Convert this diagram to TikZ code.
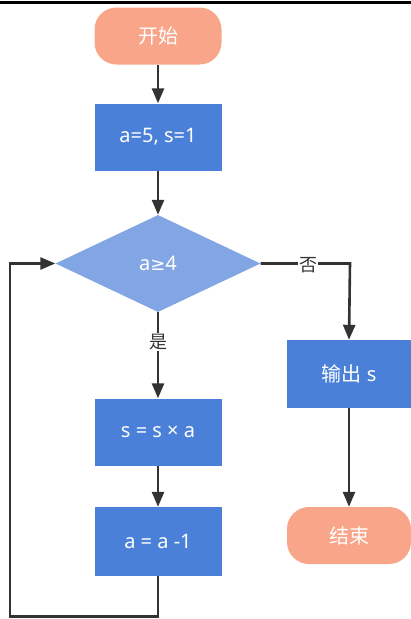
\documentclass[tikz,border=0pt]{standalone}
\usepackage{fontspec}
\setmainfont{Noto Sans}
\newfontfamily\cjk{Noto Sans CJK SC}
\newfontfamily\symf{DejaVu Sans}
\usetikzlibrary{shapes.geometric,arrows.meta}
\definecolor{salmon}{HTML}{F9A58A}
\definecolor{boxblue}{HTML}{4A80D8}
\definecolor{diablue}{HTML}{82A6E3}
\definecolor{lineclr}{HTML}{333333}
\tikzset{
  base/.style={text=white, font=\fontsize{20}{24}\selectfont, inner sep=0pt},
  term/.style={base, fill=salmon, rounded corners=22pt, minimum width=127pt, minimum height=57pt},
  proc/.style={base, fill=boxblue, minimum width=127pt, minimum height=67pt},
  dec/.style={base, fill=diablue, diamond, minimum width=205pt, minimum height=97pt},
  conn/.style={draw=lineclr, line width=2.6pt},
  arr/.style={conn, -{Triangle[width=12pt,length=15pt]}},
  lbl/.style={fill=white, text=lineclr, font=\fontsize{18}{21}\selectfont\cjk, inner sep=1pt}
}
\begin{document}
\begin{tikzpicture}[x=1pt,y=-1pt]
\useasboundingbox (0,0) rectangle (411,619);
\fill[black] (0,1) rectangle (411,4);
\node[term] (start) at (158,36) {\cjk 开始};
\node[proc] (init) at (158,137) {a=5, s=1};
\node[dec] (cond) at (158,263.5) {a{\symf\fontsize{18}{21}\selectfont ≥}4};
\node[proc, minimum width=124pt, minimum height=68pt] (out) at (349,374) {{\cjk 输出} s};
\node[term, minimum width=124pt] (stop) at (349,535.5) {\cjk 结束};
\node[proc] (mul) at (158,432) {s = s × a};
\node[proc, minimum height=69pt] (dec1) at (158,541.5) {a = a -1};
\coordinate (c1) at (350,263.5);
\coordinate (b1) at (158,616.5);
\coordinate (b2) at (10,616.5);
\coordinate (b3) at (10,263.5);
\draw[arr] (start) -- (init);
\draw[arr] (init) -- (cond.north);
\draw[arr] (cond.east) -- (c1) -- (out.north);
\node[lbl] (no) at (308,265) {否};
\draw[arr] (cond.south) -- (mul.north);
\node[lbl] (yes) at (158,342) {是};
\draw[arr] (mul) -- (dec1);
\draw[arr] (out) -- (stop);
\draw[arr] (dec1.south) -- (b1) -- (b2) -- (b3) -- (cond.west);
\end{tikzpicture}
\end{document}
